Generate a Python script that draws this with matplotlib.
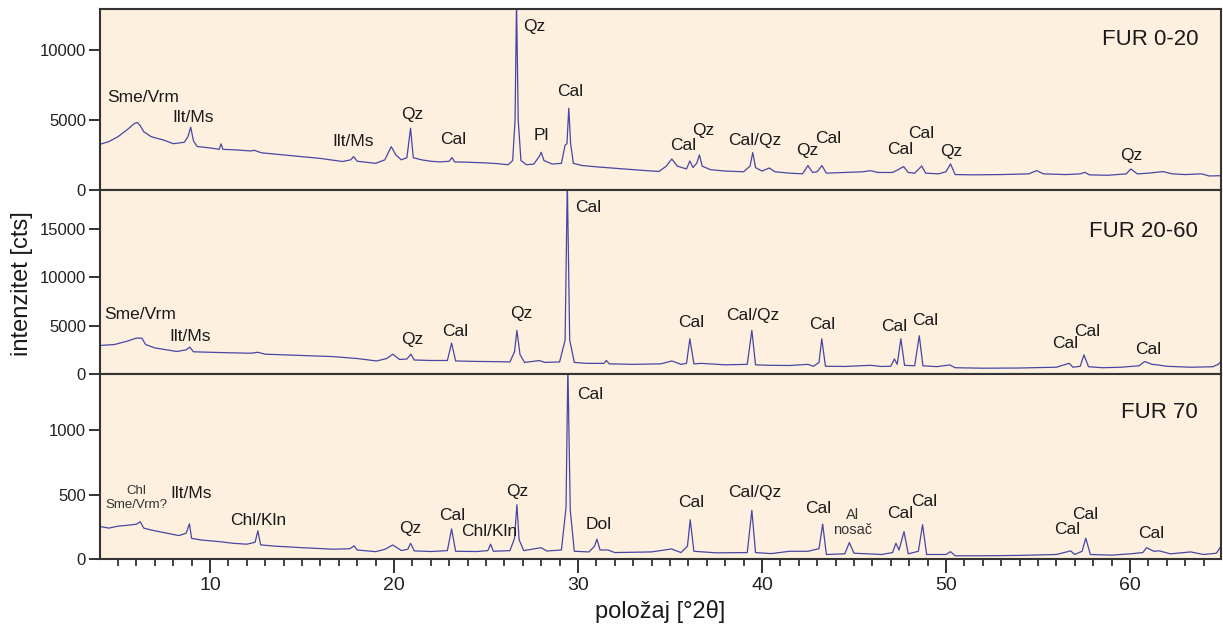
import matplotlib
matplotlib.use("Agg")
import matplotlib.pyplot as plt
from matplotlib.ticker import MultipleLocator

plt.rcParams["font.family"] = ["Liberation Sans", "DejaVu Sans"]

# FUR 0-20 pattern (2theta, counts)
x_020 = [4.0, 4.5, 5.0, 5.5, 5.9, 6.05, 6.2, 6.4, 6.8, 7.5, 8.0, 8.6, 8.8, 8.95, 9.1, 9.3,
         10.0, 10.5, 10.6, 10.7, 11.5, 12.2, 12.4, 12.8, 14.0, 15.0, 16.0, 17.2, 17.65, 17.8,
         18.0, 19.0, 19.5, 19.85, 20.1, 20.4, 20.7, 20.9, 21.05, 21.5, 22.0, 22.5, 23.0, 23.15,
         23.3, 24.0, 25.0, 25.6, 26.2, 26.45, 26.58, 26.66, 26.75, 26.9, 27.2, 27.6, 27.9, 28.0,
         28.15, 28.6, 29.1, 29.3, 29.4, 29.5, 29.6, 29.75, 30.2, 31.0, 31.5, 32.5, 33.5, 34.4,
         34.8, 35.1, 35.4, 35.9, 36.08, 36.25, 36.45, 36.6, 36.75, 37.2, 38.0, 39.0, 39.35, 39.5,
         39.65, 40.0, 40.4, 40.7, 41.5, 42.2, 42.5, 42.75, 43.0, 43.26, 43.5, 44.5, 45.5, 45.9,
         46.3, 47.1, 47.4, 47.7, 47.95, 48.3, 48.68, 48.9, 49.6, 50.0, 50.25, 50.5, 51.5, 53.0,
         54.5, 54.93, 55.3, 56.5, 57.3, 57.55, 57.8, 58.8, 59.8, 60.05, 60.4, 61.0, 61.8, 62.3,
         63.0, 63.9, 64.3, 65.0]
y_020 = [3250, 3450, 3800, 4300, 4750, 4810, 4600, 4150, 3800, 3550, 3300, 3400, 3800, 4480, 3500, 3100,
         3000, 2900, 3290, 2900, 2850, 2780, 2830, 2650, 2500, 2380, 2250, 2030, 2150, 2380,
         2050, 1900, 2150, 3090, 2500, 2150, 2300, 4400, 2300, 2150, 2050, 2000, 2050, 2310,
         2000, 1980, 1930, 1880, 1800, 2100, 5000, 13500, 5000, 2100, 1800, 1850, 2400, 2690,
         2100, 1850, 1900, 3200, 3300, 5830, 3300, 1900, 1750, 1650, 1600, 1500, 1400, 1320,
         1700, 2210, 1700, 1500, 2070, 1600, 1900, 2500, 1700, 1450, 1350, 1300, 1700, 2670,
         1600, 1350, 1570, 1300, 1200, 1150, 1740, 1250, 1300, 1740, 1200, 1250, 1300, 1380,
         1250, 1250, 1450, 1670, 1250, 1200, 1710, 1200, 1150, 1300, 1860, 1100, 1080, 1100,
         1150, 1380, 1150, 1100, 1150, 1260, 1080, 1050, 1150, 1500, 1150, 1200, 1310, 1150,
         1100, 1150, 1000, 1020]

# FUR 20-60 pattern
x_2060 = [4.0, 4.8, 5.5, 6.0, 6.3, 6.5, 7.0, 8.2, 8.7, 8.9, 9.1, 10.0, 11.0, 12.2, 12.6, 13.0,
          14.5, 16.7, 18.0, 19.05, 19.6, 19.94, 20.3, 20.7, 20.92, 21.1, 22.0, 22.9, 23.13, 23.35,
          24.5, 25.5, 26.3, 26.55, 26.68, 26.85, 27.1, 27.9, 28.2, 29.0, 29.3, 29.42, 29.55, 29.8,
          30.5, 31.4, 31.55, 31.7, 33.0, 34.5, 35.1, 35.6, 35.9, 36.08, 36.3, 36.7, 38.0, 39.2,
          39.45, 39.65, 40.4, 41.5, 42.5, 42.8, 43.1, 43.25, 43.45, 44.5, 45.9, 46.5, 47.0, 47.2,
          47.35, 47.55, 47.75, 48.3, 48.55, 48.75, 49.5, 50.2, 50.5, 52.0, 54.0, 56.0, 56.7, 56.9,
          57.3, 57.5, 57.75, 58.5, 59.5, 60.5, 60.8, 61.2, 61.5, 62.0, 63.3, 64.5, 64.8, 65.0]
y_2060 = [2950, 3050, 3400, 3720, 3700, 3050, 2700, 2330, 2500, 2780, 2300, 2250, 2200, 2150, 2250, 2050,
          1950, 1800, 1600, 1350, 1600, 2050, 1500, 1550, 2050, 1450, 1400, 1400, 3200, 1350,
          1300, 1280, 1250, 2300, 4510, 2000, 1200, 1390, 1200, 1250, 3500, 20000, 3500, 1200,
          1100, 1100, 1390, 1050, 1000, 1050, 1350, 1000, 1100, 3650, 1050, 1100, 950, 1000,
          4510, 950, 900, 880, 1000, 800, 1200, 3650, 800, 780, 900, 780, 800, 1560,
          1000, 3650, 900, 850, 3960, 850, 760, 940, 650, 600, 620, 700, 1110, 700,
          800, 1980, 750, 650, 700, 850, 1290, 1000, 940, 800, 700, 750, 1000, 1400]

# FUR 70 pattern
x_70 = [4.0, 4.5, 5.0, 5.5, 6.0, 6.2, 6.4, 6.8, 7.5, 8.3, 8.7, 8.88, 9.0, 9.5, 10.5, 11.25,
        12.0, 12.45, 12.6, 12.75, 13.5, 15.0, 16.7, 17.6, 17.83, 18.0, 19.0, 19.5, 19.93, 20.4,
        20.75, 20.9, 21.1, 22.0, 22.9, 23.13, 23.35, 24.5, 25.1, 25.25, 25.4, 26.3, 26.55, 26.68,
        26.8, 27.05, 28.0, 28.3, 29.1, 29.35, 29.45, 29.58, 29.8, 30.6, 30.9, 31.03, 31.2, 31.63,
        32.0, 34.0, 35.08, 35.6, 35.95, 36.1, 36.3, 37.5, 39.2, 39.45, 39.65, 40.5, 41.5, 42.5,
        43.1, 43.3, 43.5, 44.5, 44.75, 45.0, 46.5, 47.1, 47.28, 47.45, 47.72, 47.95, 48.5, 48.73,
        48.95, 50.0, 50.25, 50.5, 52.0, 54.0, 56.0, 56.78, 57.0, 57.4, 57.6, 57.85, 59.0, 60.0,
        60.7, 60.9, 61.3, 61.6, 62.2, 63.3, 64.0, 64.7, 65.0]
y_70 = [253, 240, 255, 262, 270, 290, 240, 225, 205, 182, 200, 273, 160, 148, 135, 122,
        115, 130, 219, 110, 100, 88, 76, 80, 102, 70, 57, 75, 109, 66,
        75, 122, 63, 58, 65, 234, 60, 58, 65, 115, 60, 65, 160, 422,
        150, 65, 88, 62, 70, 400, 1500, 380, 60, 55, 100, 154, 70, 70,
        50, 55, 78, 50, 100, 305, 60, 48, 50, 378, 50, 42, 60, 60,
        80, 271, 35, 40, 128, 45, 35, 50, 122, 70, 213, 40, 60, 266,
        35, 35, 57, 25, 25, 28, 35, 63, 35, 60, 162, 35, 30, 40,
        50, 88, 60, 63, 40, 55, 35, 45, 109]

# peak labels (text, 2theta, counts)
labels_020 = [("Sme/Vrm", 6.36, 6570), ("Ilt/Ms", 9.07, 5140), ("Ilt/Ms", 17.77, 3430),
              ("Qz", 21.0, 5360), ("Cal", 23.2, 3570), ("Qz", 27.6, 11640), ("Pl", 28.0, 3860),
              ("Cal", 29.56, 7000), ("Cal", 35.7, 3140), ("Qz", 36.8, 4210), ("Cal/Qz", 39.6, 3500),
              ("Qz", 42.45, 2790), ("Cal", 43.6, 3640), ("Cal", 47.5, 2860), ("Cal", 48.64, 4000),
              ("Qz", 50.27, 2710), ("Qz", 60.05, 2430)]
labels_2060 = [("Sme/Vrm", 6.2, 6150), ("Ilt/Ms", 8.9, 3890), ("Qz", 20.97, 3540),
               ("Cal", 23.3, 4410), ("Qz", 26.9, 6250), ("Cal", 30.54, 17260), ("Cal", 36.14, 5350),
               ("Cal/Qz", 39.5, 6040), ("Cal", 43.3, 5100), ("Cal", 47.17, 4930), ("Cal", 48.85, 5520),
               ("Cal", 56.47, 3130), ("Cal", 57.66, 4410), ("Cal", 60.98, 2500)]
labels_70 = [("Ilt/Ms", 8.95, 508), ("Chl/Kln", 12.62, 299), ("Qz", 20.9, 240), ("Cal", 23.17, 336),
             ("Chl/Kln", 25.18, 213), ("Qz", 26.7, 521), ("Cal", 30.65, 1281), ("Dol", 31.1, 271),
             ("Cal", 36.14, 440), ("Cal/Qz", 39.6, 513), ("Cal", 43.06, 396), ("Cal", 47.5, 352),
             ("Cal", 48.82, 443), ("Cal", 56.6, 232), ("Cal", 57.55, 344), ("Cal", 61.15, 201)]
small_70 = [("Chl", 5.98, 526), ("Sme/Vrm?", 5.98, 417), ("Al\nnosač", 44.9, 284)]

samples = ["FUR 0-20", "FUR 20-60", "FUR 70"]
ylims = [12900, 19050, 1437]
yticks = [[0, 5000, 10000], [0, 5000, 10000, 15000], [0, 500, 1000]]
sample_y = [10710, 14720, 1138]

BG = "#fdf0df"
LINE = "#4846a3"
SPINE = "#333333"

fig = plt.figure(figsize=(12.23, 6.32), dpi=100)
left, width = 100 / 1223, 1121 / 1223
tops = [9, 190, 374]
bots = [190, 374, 559]

series = [(x_020, y_020, labels_020), (x_2060, y_2060, labels_2060), (x_70, y_70, labels_70)]
axes = []
for i, (xs, ys, labs) in enumerate(series):
    b = 1 - bots[i] / 632
    h = (bots[i] - tops[i]) / 632
    ax = fig.add_axes([left, b, width, h])
    ax.set_facecolor(BG)
    ax.plot(xs, ys, color=LINE, lw=0.9)
    ax.set_xlim(4.02, 64.95)
    ax.set_ylim(0, ylims[i])
    ax.set_yticks(yticks[i])
    ax.tick_params(axis="y", direction="out", length=8, width=1.3, labelsize=12,
                   colors="#222222", pad=2)
    for s in ax.spines.values():
        s.set_color(SPINE)
        s.set_linewidth(1.5)
    for t, x, y in labs:
        ax.text(x, y, t, ha="center", va="center", fontsize=12.5, color="#1a1a1a")
    ax.text(63.7, sample_y[i], samples[i], ha="right", va="center", fontsize=16, color="#1a1a1a")
    if i < 2:
        ax.tick_params(axis="x", bottom=False, labelbottom=False)
    axes.append(ax)

ax = axes[2]
for t, x, y in small_70:
    ax.text(x, y, t, ha="center", va="center", fontsize=9.5 if t != "Al\nnosač" else 10.5,
            color="#333333", linespacing=1.1)
ax.xaxis.set_major_locator(MultipleLocator(10))
ax.xaxis.set_minor_locator(MultipleLocator(1))
ax.tick_params(axis="x", which="major", direction="out", length=10, width=1.3,
               labelsize=14, colors="#222222", pad=3)
ax.tick_params(axis="x", which="minor", direction="out", length=5, width=1.2, colors="#222222")
ax.set_xlabel("položaj [°2θ]", fontsize=17, color="#1a1a1a", labelpad=4)

fig.text(0.018, 1 - 284 / 632, "intenzitet [cts]", rotation=90, ha="center", va="center",
         fontsize=17, color="#1a1a1a")

fig.savefig("out.png", dpi=100, facecolor="white")
